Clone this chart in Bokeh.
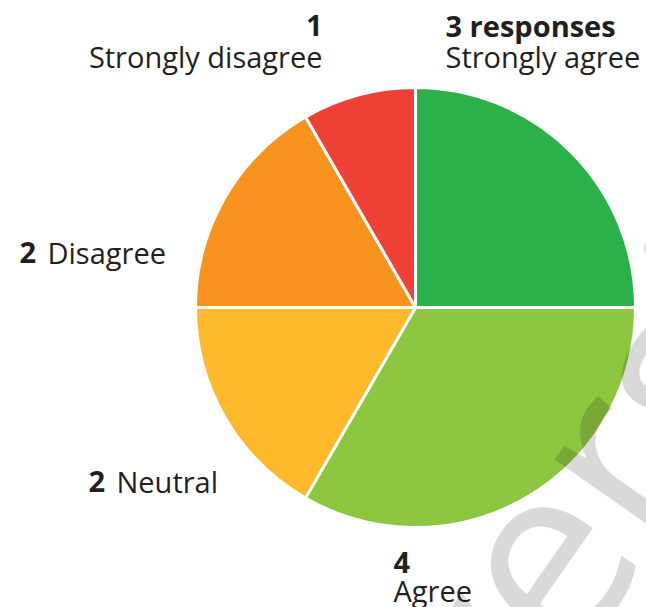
from bokeh.plotting import figure
from bokeh.models import Range1d, ColumnDataSource
from bokeh.core.properties import value
from bokeh.embed import file_html
from bokeh.resources import INLINE
import math

# ---- data ----
categories = ["Strongly agree", "Agree", "Neutral", "Disagree", "Strongly disagree"]
counts = [3, 4, 2, 2, 1]
colors = ["#2bb04a", "#8dc63f", "#fdb92a", "#f7931e", "#ef4136"]
number_labels = [f"{counts[0]} responses"] + [str(c) for c in counts[1:]]

W, H = 646, 607
p = figure(width=W, height=H, x_range=Range1d(0, W), y_range=Range1d(0, H),
           output_backend="svg", toolbar_location=None, min_border=0,
           x_axis_type=None, y_axis_type=None)
p.grid.visible = False
p.outline_line_color = None
p.background_fill_color = "white"
p.border_fill_color = "white"

def Y(py):
    return H - py

cx, cy, r = 415, Y(307), 220
total = sum(counts)
starts, ends = [], []
acc = 0
for c in counts:
    s = math.pi / 2 - 2 * math.pi * acc / total
    acc += c
    e = math.pi / 2 - 2 * math.pi * acc / total
    starts.append(s)
    ends.append(e)

src = ColumnDataSource(dict(x=[cx] * len(counts), y=[cy] * len(counts),
                            start=starts, end=ends, color=colors))
p.wedge(x="x", y="y", radius=r, start_angle="start", end_angle="end",
        direction="clock", fill_color="color", line_color="white",
        line_width=3, source=src)

# ---- labels ----
txt_col = "#231f20"
dy = 11  # compensate baseline rendering
layout = {
    0: dict(bx=445, by=36, rx=445, ry=67, align="left"),
    1: dict(bx=393, by=573, rx=393, ry=601, align="left"),
    2: dict(bx=88, by=492, rx=116, ry=492, align="left"),
    3: dict(bx=19, by=263, rx=47, ry=263, align="left"),
    4: dict(bx=322, by=36, rx=322, ry=67, align="right"),
}
for i, cat in enumerate(categories):
    L = layout[i]
    p.text(x=[L["bx"]], y=[Y(L["by"] - dy)], text=[number_labels[i]],
           text_font=value("Open Sans"), text_font_style="bold",
           text_font_size="29px", text_color=txt_col,
           text_align=L["align"], text_baseline="alphabetic")
    p.text(x=[L["rx"]], y=[Y(L["ry"] - dy)], text=[cat],
           text_font=value("Open Sans"), text_font_size="29px",
           text_color=txt_col, text_align=L["align"],
           text_baseline="alphabetic")

# ---- watermark ----
p.text(x=[420], y=[Y(715)], text=["version"], angle=55, angle_units="deg",
       text_font=value("Open Sans"), text_font_size="250px",
       text_color="black", text_alpha=0.15,
       text_align="left", text_baseline="alphabetic")

open("out.html", "w").write(file_html(p, INLINE))
